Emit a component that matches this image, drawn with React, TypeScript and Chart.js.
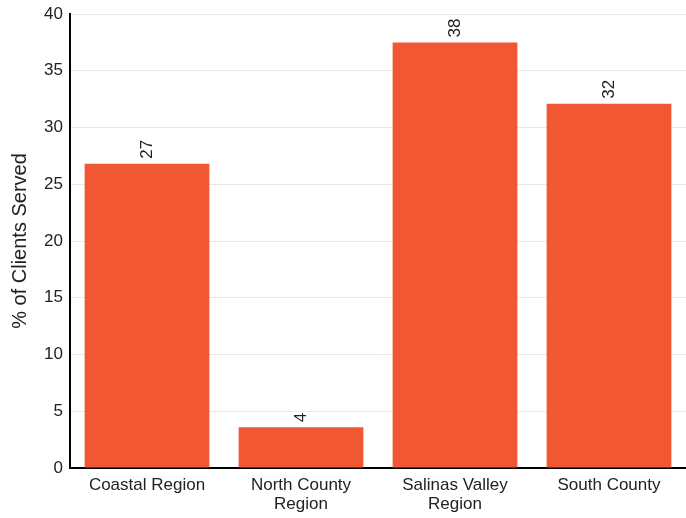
import React, { useEffect, useRef } from "react";
import { Chart, registerables } from "chart.js";

Chart.register(...registerables);

const categories: (string | string[])[] = [
  "Coastal Region",
  ["North County", "Region"],
  ["Salinas Valley", "Region"],
  "South County",
];
const values: number[] = [26.8, 3.6, 37.5, 32.1];
const valueLabels: string[] = ["27", "4", "38", "32"];
const yTitle = "% of Clients Served";

const FONT = "'Liberation Sans', Arial, sans-serif";

const barLabelPlugin = {
  id: "barLabels",
  afterDatasetsDraw(chart: any) {
    const ctx = chart.ctx;
    const meta = chart.getDatasetMeta(0);
    ctx.save();
    ctx.fillStyle = "#222";
    ctx.font = `17px ${FONT}`;
    ctx.textAlign = "left";
    ctx.textBaseline = "middle";
    meta.data.forEach((bar: any, i: number) => {
      ctx.save();
      ctx.translate(bar.x, bar.y - 5);
      ctx.rotate(-Math.PI / 2);
      ctx.fillText(valueLabels[i], 0, 0);
      ctx.restore();
    });
    ctx.restore();
  },
};

export default function App() {
  const ref = useRef<HTMLCanvasElement>(null);
  useEffect(() => {
    if (!ref.current) return;
    const chart = new Chart(ref.current, {
      type: "bar",
      data: {
        labels: categories,
        datasets: [
          {
            data: values,
            backgroundColor: "#F05732",
            barPercentage: 0.81,
            categoryPercentage: 1,
          },
        ],
      },
      options: {
        animation: false,
        responsive: false,
        maintainAspectRatio: false,
        layout: { padding: { top: 14, right: 0, left: 8, bottom: 0 } },
        plugins: {
          legend: { display: false },
          tooltip: { enabled: false },
        },
        scales: {
          x: {
            grid: { display: false, drawTicks: false },
            border: { display: true, color: "#000", width: 2 },
            ticks: {
              color: "#222",
              font: { family: FONT, size: 17, lineHeight: 1.1 },
              padding: 8,
              maxRotation: 0,
              autoSkip: false,
            },
            afterFit(scale: any) {
              scale.height = 50;
              scale.paddingLeft = 0;
              scale.paddingRight = 0;
            },
          },
          y: {
            min: 0,
            max: 40,
            ticks: {
              stepSize: 5,
              color: "#222",
              font: { family: FONT, size: 17 },
              padding: 7,
            },
            grid: { color: "#e8e8e8", drawTicks: false },
            border: { display: true, color: "#000", width: 2 },
            title: {
              display: true,
              text: yTitle,
              color: "#222",
              font: { family: FONT, size: 20 },
              padding: 0,
            },
            afterFit(scale: any) {
              scale.width = 62;
              scale.paddingTop = 0;
              scale.paddingBottom = 0;
            },
          },
        },
      },
      plugins: [barLabelPlugin],
    });
    return () => chart.destroy();
  }, []);
  return (
    <div style={{ position: "fixed", left: 0, top: 0, width: 686, height: 518, background: "#fff" }}>
      <canvas ref={ref} width={686} height={518} style={{ width: 686, height: 518 }} />
    </div>
  );
}
